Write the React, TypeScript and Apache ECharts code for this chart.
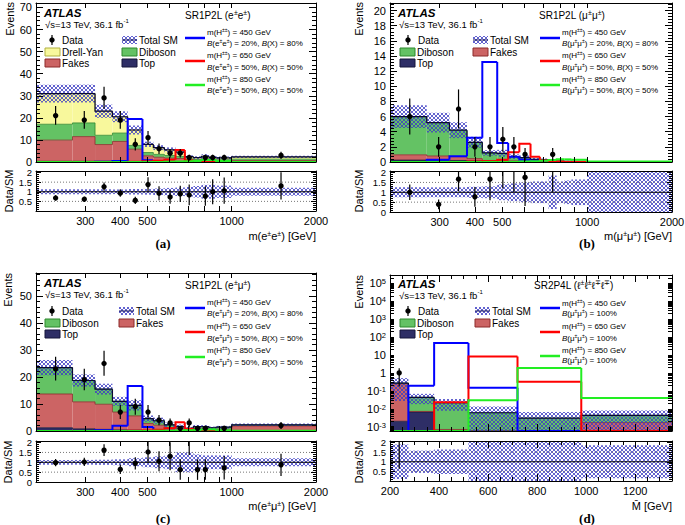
import React, { useEffect, useRef } from "react";
import * as echarts from "echarts";

const FONT = "'Liberation Sans', Arial, Helvetica, sans-serif";
const SERIF = "'Liberation Serif', 'Times New Roman', serif";

// ---------- binning and axis ticks ----------
const EDGES_2L = [200, 270, 325, 375, 425, 480, 525, 575, 630, 680, 730, 780, 830, 880, 1000, 2000];
const EDGES_4L = [200, 275, 380, 520, 720, 980, 1350];
const X_TICKS_LOG = [200, 300, 400, 500, 600, 700, 800, 900, 1000, 2000];
const X_LABELS_LOG = [300, 400, 500, 1000, 2000];
const RATIO_LABELS = [0, 0.5, 1, 1.5, 2];
const LOGY_EXPONENTS_D = [-3, -2, -1, 0, 1, 2, 3, 4, 5];

// ---------- (a) SR1P2L e±e± ----------
const A_TOP = [0.3, 0.3, 0.3, 0.3, 0.2, 0.2, 0.15, 0.15, 0.1, 0.1, 0.05, 0.05, 0.05, 0.05, 0.1];
const A_FAKES = [9.6, 11.2, 7.6, 9.0, 5.6, 2.6, 2.0, 1.6, 1.5, 0.7, 0.6, 0.8, 0.6, 0.5, 0.6];
const A_DIBOSON = [7.2, 6.2, 4.2, 3.8, 1.7, 1.5, 1.3, 1.2, 0.9, 0.6, 0.5, 0.6, 0.5, 0.5, 0.6];
const A_DY = [13.9, 13.3, 10.9, 7.4, 7.0, 3.7, 3.05, 2.55, 2.0, 1.0, 0.85, 1.15, 0.85, 0.85, 1.0];
const A_UNC = [0.13, 0.13, 0.13, 0.12, 0.14, 0.15, 0.17, 0.2, 0.22, 0.25, 0.3, 0.36, 0.36, 0.32, 0.21];
const A_DATA = [21, 19, 29, 19, 8, 11, 6, 4, 4, 2, 0, 2, 2, 2, 3];
const A_H450 = [0, 0, 0.1, 0.5, 19.5, 0.8, 0.2, 0.1, 0.05, 0, 0, 0, 0, 0, 0];
const A_H650 = [0, 0, 0, 0, 0.1, 0.3, 0.6, 1.0, 5.4, 0.7, 0.2, 0.1, 0.05, 0, 0];
const A_H850 = [0, 0, 0, 0, 0, 0, 0.05, 0.1, 0.2, 0.3, 0.5, 0.9, 0.9, 0.4, 0.05];

// ---------- (b) SR1P2L μ±μ± ----------
const B_TOP = [0.25, 0.2, 0.2, 0.15, 0.1, 0.1, 0.05, 0.05, 0.03, 0.03, 0.02, 0.01, 0.01, 0.01, 0.01];
const B_FAKES = [0.7, 0.6, 0.5, 0.3, 0.1, 0.1, 0.1, 0.05, 0.05, 0.04, 0.02, 0.02, 0.01, 0.01, 0.01];
const B_DIBOSON = [5.05, 4.4, 3.5, 2.15, 1.0, 0.95, 0.55, 0.47, 0.27, 0.23, 0.13, 0.09, 0.08, 0.06, 0.04];
const B_UNC = [0.25, 0.25, 0.25, 0.28, 0.3, 0.4, 0.45, 0.5, 0.55, 0.55, 0.85, 0.55, 0.6, 0.65, 1.2];
const B_DATA = [6, 2, 7, 2, 2, 3, 2, 1, 0, 0, 1, 0, 0, 0, 0];
const B_H450 = [0, 0.3, 0.75, 3.2, 13.2, 2.5, 0.7, 0.3, 0.15, 0.1, 0, 0, 0, 0, 0];
const B_H650 = [0, 0, 0, 0.05, 0.1, 0.3, 1.3, 2.4, 0.7, 0.2, 0.1, 0.05, 0, 0, 0];
const B_H850 = [0, 0, 0, 0, 0, 0, 0, 0.05, 0.1, 0.15, 0.25, 0.35, 0.35, 0.3, 0.05];

// ---------- (c) SR1P2L e±μ± ----------
const C_TOP = [1.2, 0.8, 0.6, 0.4, 0.3, 0.2, 0.15, 0.1, 0.1, 0.05, 0.05, 0.05, 0.05, 0.05, 0.1];
const C_FAKES = [12.5, 10, 9.3, 6.6, 5.3, 2.6, 2.0, 1.2, 0.8, 0.5, 0.8, 0.8, 0.5, 0.6, 1.8];
const C_DIBOSON = [9.8, 7.9, 5.6, 4.0, 3.9, 1.8, 1.65, 1.0, 0.7, 0.45, 0.75, 0.75, 0.65, 0.75, 0.4];
const C_UNC = [0.12, 0.12, 0.13, 0.15, 0.2, 0.25, 0.3, 0.35, 0.5, 0.5, 0.4, 0.35, 0.35, 0.35, 0.2];
const C_DATA = [23, 19, 25, 7, 9, 7, 4, 3, 1, 3, 1, 1, 0, 1, 2];
const C_H450 = [0, 0, 0.3, 1.9, 16.7, 1.5, 0.3, 0.1, 0, 0, 0, 0, 0, 0, 0];
const C_H650 = [0, 0, 0, 0, 0.1, 0.2, 0.5, 1.0, 3.2, 0.8, 0.3, 0.1, 0.05, 0, 0];
const C_H850 = [0, 0, 0, 0, 0, 0, 0.05, 0.1, 0.15, 0.25, 0.4, 0.6, 0.6, 0.3, 0.05];

// ---------- (d) SR2P4L ----------
const D_TOP = [0.002, 0.0066, 0.0005, 0.0003, 0.0001, 0.0002];
const D_FAKES = [0.25, 0.0005, 0.0002, 0.0002, 0.0002, 0.0015];
const D_DIBOSON = [0.018, 0.036, 0.021, 0.0055, 0.0027, 0.0026];
const D_UNC = [0.9, 0.58, 0.64, 1.25, 1.2, 0.86];
const D_DATA = [1, 0, 0, 0, 0, 0];
const D_H450 = [0, 0.19, 47, 0.15, 0, 0];
const D_H650 = [0, 0, 0.023, 8.1, 0.32, 0];
const D_H850 = [0, 0, 0, 0.03, 1.87, 0.04];

// Poisson 68% quantiles for small counts
const POIS_LO = [0, 0.173, 0.708, 1.367, 2.086, 2.84, 3.62, 4.419, 5.232, 6.057, 6.891];
const POIS_HI = [1.841, 3.3, 4.638, 5.918, 7.163, 8.382, 9.584, 10.77, 11.95, 13.11, 14.27];
function poisBand(n: number): [number, number] {
  if (n <= 10) return [POIS_LO[n], POIS_HI[n - 1]];
  const s = Math.sqrt(n + 0.25);
  return [n - s + 0.5, n + s - 0.3];
}

const LX_MIN = Math.log10(200);
const LX_MAX = Math.log10(2000);
const LY_MIN_D = -3.24;
const LY_MAX_D = 5.46;

const COMP_STYLE: Record<string, { fill: string; line: string }> = {
  dy: { fill: "#f8f89c", line: "#b0b040" },
  dib: { fill: "#64c264", line: "#2d872d" },
  fakes: { fill: "#cc6464", line: "#8c2a2a" },
  top: { fill: "#2e2e66", line: "#15153a" },
};
const SIG_COLORS = ["#0000ff", "#ff0000", "#22ee22"];

const GRID_BOXES = [
  { left: 36, top: 3, width: 280, height: 159 },
  { left: 36, top: 171, width: 280, height: 40 },
  { left: 390, top: 3, width: 282, height: 159 },
  { left: 390, top: 171, width: 282, height: 41 },
  { left: 36, top: 273, width: 280, height: 158 },
  { left: 36, top: 441, width: 280, height: 41 },
  { left: 390, top: 275, width: 282, height: 156 },
  { left: 390, top: 441, width: 282, height: 40 },
];

type Panel = {
  grid: number;
  edges: number[];
  logX: boolean;
  logY: boolean;
  yMax: number;
  yInt: number;
  comps: { vals: number[]; kind: string }[];
  unc: number[];
  data: number[];
  sig: number[][];
};

const PANELS: Panel[] = [
  {
    grid: 0, edges: EDGES_2L, logX: true, logY: false, yMax: 72, yInt: 10,
    comps: [{ vals: A_TOP, kind: "top" }, { vals: A_FAKES, kind: "fakes" }, { vals: A_DIBOSON, kind: "dib" }, { vals: A_DY, kind: "dy" }],
    unc: A_UNC, data: A_DATA, sig: [A_H450, A_H650, A_H850],
  },
  {
    grid: 2, edges: EDGES_2L, logX: true, logY: false, yMax: 21, yInt: 2,
    comps: [{ vals: B_TOP, kind: "top" }, { vals: B_FAKES, kind: "fakes" }, { vals: B_DIBOSON, kind: "dib" }],
    unc: B_UNC, data: B_DATA, sig: [B_H450, B_H650, B_H850],
  },
  {
    grid: 4, edges: EDGES_2L, logX: true, logY: false, yMax: 58.5, yInt: 10,
    comps: [{ vals: C_TOP, kind: "top" }, { vals: C_FAKES, kind: "fakes" }, { vals: C_DIBOSON, kind: "dib" }],
    unc: C_UNC, data: C_DATA, sig: [C_H450, C_H650, C_H850],
  },
  {
    grid: 6, edges: EDGES_4L, logX: false, logY: true, yMax: 0, yInt: 0,
    comps: [{ vals: D_TOP, kind: "top" }, { vals: D_FAKES, kind: "fakes" }, { vals: D_DIBOSON, kind: "dib" }],
    unc: D_UNC, data: D_DATA, sig: [D_H450, D_H650, D_H850],
  },
];

function makeHatch(): any {
  try {
    const c = document.createElement("canvas");
    c.width = 4;
    c.height = 4;
    const ctx = c.getContext("2d");
    if (!ctx) return "rgba(70,70,200,0.45)";
    ctx.fillStyle = "rgba(60,60,195,0.8)";
    for (let i = 0; i < 4; i++) {
      ctx.fillRect(i, i, 1, 1);
      if (i !== 3 - i) ctx.fillRect(i, 3 - i, 1, 1);
    }
    return { image: c.toDataURL(), repeat: "repeat", imageWidth: 4, imageHeight: 4 };
  } catch (e) {
    return "rgba(70,70,200,0.45)";
  }
}

// ---------- render helpers ----------
const rectRender = (fill: any) => (_p: any, api: any) => {
  const a = api.coord([api.value(0), api.value(3)]);
  const b = api.coord([api.value(1), api.value(2)]);
  return { type: "rect", shape: { x: a[0], y: a[1], width: b[0] - a[0], height: b[1] - a[1] }, style: { fill } };
};
const stepRender = (stroke: string, lineWidth: number) => (_p: any, api: any) => {
  const a = api.coord([api.value(0), api.value(2)]);
  const b = api.coord([api.value(0), api.value(3)]);
  const c = api.coord([api.value(1), api.value(3)]);
  return { type: "polyline", shape: { points: [a, b, c] }, style: { stroke, lineWidth, fill: "none" } };
};
const pointRender = (_p: any, api: any) => {
  const c = api.coord([api.value(0), api.value(1)]);
  const lo = api.coord([api.value(0), api.value(2)]);
  const hi = api.coord([api.value(0), api.value(3)]);
  return {
    type: "group",
    children: [
      { type: "line", shape: { x1: lo[0], y1: lo[1], x2: hi[0], y2: hi[1] }, style: { stroke: "#000", lineWidth: 1.2 } },
      { type: "circle", shape: { cx: c[0], cy: c[1], r: 2.7 }, style: { fill: "#000" } },
    ],
  };
};
const guideRender = (_p: any, api: any) => {
  const a = api.coord([api.value(0), api.value(2)]);
  const b = api.coord([api.value(1), api.value(2)]);
  const solid = api.value(3) === 1;
  return {
    type: "line",
    shape: { x1: a[0], y1: a[1], x2: b[0], y2: b[1] },
    style: { stroke: solid ? "#000" : "#777", lineWidth: 1, lineDash: solid ? null : [1, 2] },
  };
};
const cs = (gi: number, data: any[], renderItem: any, z = 2) => ({
  type: "custom",
  coordinateSystem: "cartesian2d",
  xAxisIndex: 2 * gi,
  yAxisIndex: 2 * gi,
  clip: true,
  silent: true,
  z,
  data,
  renderItem,
});

function makeX(p: Panel, gi: number, position: string, showLabel: boolean) {
  const ax: any = {
    gridIndex: gi,
    type: "value",
    position,
    z: 5,
    axisLine: { show: true, onZero: false, lineStyle: { color: "#000", width: 1 } },
    splitLine: { show: false },
    axisTick: { show: true, inside: true, length: 5, lineStyle: { color: "#000" } },
    axisLabel: { show: showLabel, color: "#000", fontSize: 11, fontFamily: FONT, margin: 4 },
  };
  if (p.logX) {
    ax.min = LX_MIN;
    ax.max = LX_MAX;
    ax.axisTick.customValues = X_TICKS_LOG.map((v) => Math.log10(v));
    ax.axisLabel.customValues = X_LABELS_LOG.map((v) => Math.log10(v));
    ax.axisLabel.formatter = (v: number) => String(Math.round(Math.pow(10, v)));
  } else {
    ax.min = 200;
    ax.max = 1350;
    ax.interval = 200;
    ax.axisTick.length = 7;
    ax.minorTick = { show: true, splitNumber: 4, length: 4, lineStyle: { color: "#000" } };
    ax.axisLabel.formatter = (v: number) => (v % 200 === 0 && v <= 1200 ? String(v) : "");
  }
  return ax;
}

function makeY(p: Panel, gi: number, position: string, isRatio: boolean, showLabel: boolean) {
  const ax: any = {
    gridIndex: gi,
    type: "value",
    position,
    z: 5,
    axisLine: { show: true, onZero: false, lineStyle: { color: "#000", width: 1 } },
    splitLine: { show: false },
    axisTick: { show: true, inside: true, length: 7, lineStyle: { color: "#000" } },
    axisLabel: { show: showLabel, color: "#000", fontSize: 11, fontFamily: FONT, margin: 4 },
  };
  if (isRatio) {
    ax.min = 0;
    ax.max = 2.08;
    ax.interval = 0.5;
    ax.axisTick.length = 5;
    ax.axisLabel.fontSize = 9.5;
    ax.axisLabel.lineHeight = 8;
    ax.minorTick = { show: true, splitNumber: 5, length: 3, lineStyle: { color: "#000" } };
    ax.axisLabel.formatter = (v: number) => {
      const r = Math.round(v * 100) / 100;
      return RATIO_LABELS.indexOf(r) >= 0 && Math.abs(v - r) < 1e-6 ? String(r) : "";
    };
  } else if (p.logY) {
    ax.min = LY_MIN_D;
    ax.max = LY_MAX_D;
    const ticks: number[] = [];
    for (let e = -4; e <= 5; e++) {
      for (let k = 1; k <= 9; k++) {
        const v = e + Math.log10(k);
        if (v > LY_MIN_D && v < LY_MAX_D) ticks.push(v);
      }
    }
    ax.axisTick.customValues = ticks;
    ax.axisTick.length = 4;
    ax.axisLabel.customValues = LOGY_EXPONENTS_D;
    ax.axisLabel.formatter = (v: number) => {
      const e = Math.round(v);
      if (e === 0) return "1";
      if (e === 1) return "10";
      return "{b|10}{s|" + e + "}";
    };
    ax.axisLabel.rich = {
      b: { fontSize: 11, fontFamily: FONT, color: "#000" },
      s: { fontSize: 7.5, fontFamily: FONT, color: "#000", verticalAlign: "top", lineHeight: 8 },
    };
  } else {
    ax.min = 0;
    ax.max = p.yMax;
    ax.interval = p.yInt;
    ax.minorTick = { show: true, splitNumber: 5, length: 4, lineStyle: { color: "#000" } };
    ax.axisLabel.formatter = (v: number) => (Math.abs(v / p.yInt - Math.round(v / p.yInt)) < 1e-6 ? String(v) : "");
  }
  return ax;
}

// ---------- text helpers ----------
const rich = (size: number) => ({
  n: { fontSize: size, fontFamily: FONT, fill: "#000", color: "#000", lineHeight: size + 2 },
  i: { fontSize: size, fontFamily: FONT, fontStyle: "italic", fill: "#000", color: "#000", lineHeight: size + 2 },
  s: {
    fontSize: Math.max(5, Math.round(size * 0.68)),
    fontFamily: FONT,
    fill: "#000",
    color: "#000",
    verticalAlign: "top",
    lineHeight: Math.round(size * 0.7),
  },
});
const txt = (x: number, y: number, text: string, size: number, opts: any = {}, extra: any = {}) => ({
  type: "text",
  x,
  y,
  silent: true,
  z: 100,
  ...extra,
  style: {
    text,
    fontSize: size,
    fontFamily: FONT,
    fill: "#000",
    align: "left",
    verticalAlign: "middle",
    textAlign: opts.align || "left",
    textVerticalAlign: "middle",
    rich: rich(size),
    ...opts,
  },
});
const gline = (x1: number, y1: number, x2: number, y2: number, stroke: string, lineWidth: number) => ({
  type: "line",
  silent: true,
  z: 100,
  shape: { x1, y1, x2, y2 },
  style: { stroke, lineWidth },
});

type Leg = {
  ax: number; ay: number;
  entries: [number, number, string, string][];
  srx: number; sry: number; sr: string;
  sigx: number; sig: [number, number, number, string, string][];
};

function legendEls(L: Leg, hatch: any) {
  const els: any[] = [];
  els.push(txt(L.ax, L.ay, "ATLAS", 11.5, { fontWeight: "bold", fontStyle: "italic" }));
  els.push(txt(L.ax + 1, L.ay + 11, "{n|√s=13 TeV, 36.1 fb}{s|-1}", 9.5));
  L.entries.forEach(([x, y, kind, label]) => {
    if (kind === "data") {
      els.push(gline(x + 7, y - 5, x + 7, y + 5, "#000", 1.2));
      els.push({ type: "circle", silent: true, z: 100, shape: { cx: x + 7, cy: y, r: 2.7 }, style: { fill: "#000" } });
    } else if (kind === "sm") {
      els.push({ type: "rect", silent: true, z: 100, shape: { x, y: y - 4, width: 15, height: 8 }, style: { fill: hatch } });
      els.push(gline(x, y, x + 15, y, "#14145a", 1));
    } else {
      const st = COMP_STYLE[kind];
      els.push({ type: "rect", silent: true, z: 100, shape: { x, y: y - 4, width: 15, height: 8 }, style: { fill: st.fill, stroke: st.line, lineWidth: 1 } });
    }
    els.push(txt(x + 17, y, label, 10));
  });
  els.push(txt(L.srx, L.sry, L.sr, 10));
  L.sig.forEach(([ly, t1y, t2y, t1, t2], j) => {
    els.push(gline(L.sigx, ly, L.sigx + 20, ly, SIG_COLORS[j], 2.5));
    els.push(txt(L.sigx + 22, t1y, t1, 8));
    els.push(txt(L.sigx + 22, t2y, t2, 8));
  });
  return els;
}

const MH = (m: number) => "{n|m(H}{s|±±}{n|) = " + m + " GeV}";
const BR2 = (a: string, b: string, p: number) =>
  "{i|B}{n|(" + a + "}{s|±}{n|" + b + "}{s|±}{n|) = " + p + "%, }{i|B}{n|(X) = " + (100 - p) + "%}";
const BR4 = "{i|B}{n|(μ}{s|±}{n|μ}{s|±}{n|) = 100%}";

function buildGraphics(hatch: any) {
  const els: any[] = [];
  // (a)
  els.push(
    ...legendEls(
      {
        ax: 44, ay: 13,
        entries: [
          [45, 40, "data", "Data"], [122, 40, "sm", "Total SM"],
          [45, 52, "dy", "Drell-Yan"], [122, 52, "dib", "Diboson"],
          [45, 63, "fakes", "Fakes"], [122, 63, "top", "Top"],
        ],
        srx: 185, sry: 15, sr: "{n|SR1P2L (e}{s|±}{n|e}{s|±}{n|)}",
        sigx: 185,
        sig: [
          [38, 32, 43, MH(450), BR2("e", "e", 20)],
          [61, 55, 67, MH(650), BR2("e", "e", 50)],
          [85, 79, 90, MH(850), BR2("e", "e", 50)],
        ],
      },
      hatch
    )
  );
  // (b)
  els.push(
    ...legendEls(
      {
        ax: 398, ay: 13,
        entries: [
          [401, 40, "data", "Data"], [473, 40, "sm", "Total SM"],
          [400, 52, "dib", "Diboson"], [473, 52, "fakes", "Fakes"],
          [400, 63, "top", "Top"],
        ],
        srx: 539, sry: 15, sr: "{n|SR1P2L (μ}{s|±}{n|μ}{s|±}{n|)}",
        sigx: 540,
        sig: [
          [38, 32, 43, MH(450), BR2("μ", "μ", 20)],
          [61, 55, 67, MH(650), BR2("μ", "μ", 50)],
          [85, 79, 90, MH(850), BR2("μ", "μ", 50)],
        ],
      },
      hatch
    )
  );
  // (c)
  els.push(
    ...legendEls(
      {
        ax: 44, ay: 283,
        entries: [
          [45, 311, "data", "Data"], [119, 311, "sm", "Total SM"],
          [45, 323, "dib", "Diboson"], [119, 323, "fakes", "Fakes"],
          [45, 334, "top", "Top"],
        ],
        srx: 185, sry: 285, sr: "{n|SR1P2L (e}{s|±}{n|μ}{s|±}{n|)}",
        sigx: 185,
        sig: [
          [308, 302, 313, MH(450), BR2("e", "μ", 20)],
          [332, 326, 338, MH(650), BR2("e", "μ", 50)],
          [357, 350, 362, MH(850), BR2("e", "μ", 50)],
        ],
      },
      hatch
    )
  );
  // (d)
  els.push(
    ...legendEls(
      {
        ax: 398, ay: 284,
        entries: [
          [401, 311, "data", "Data"], [475, 311, "sm", "Total SM"],
          [400, 323, "dib", "Diboson"], [475, 323, "fakes", "Fakes"],
          [400, 334, "top", "Top"],
        ],
        srx: 534, sry: 285, sr: "{n|SR2P4L (ℓ}{s|±}{n|ℓ}{s|±}{n|ℓ}{s|∓}{n|ℓ}{s|∓}{n|)}",
        sigx: 540,
        sig: [
          [308, 303, 313, MH(450), BR4],
          [332, 326, 338, MH(650), BR4],
          [356, 350, 360, MH(850), BR4],
        ],
      },
      hatch
    )
  );
  // axis titles
  const rot = { rotation: Math.PI / 2 };
  els.push(txt(10, 2, "Events", 11, { align: "right", textAlign: "right" }, rot));
  els.push(txt(9, 191, "Data/SM", 11, { align: "center", textAlign: "center" }, rot));
  els.push(txt(359, 2, "Events", 11, { align: "right", textAlign: "right" }, rot));
  els.push(txt(359, 191, "Data/SM", 11, { align: "center", textAlign: "center" }, rot));
  els.push(txt(8, 273, "Events", 11, { align: "right", textAlign: "right" }, rot));
  els.push(txt(8, 462, "Data/SM", 11, { align: "center", textAlign: "center" }, rot));
  els.push(txt(359, 275, "Events", 11, { align: "right", textAlign: "right" }, rot));
  els.push(txt(359, 462, "Data/SM", 11, { align: "center", textAlign: "center" }, rot));

  els.push(txt(316, 236, "{n|m(e}{s|±}{n|e}{s|±}{n|) [GeV]}", 11, { align: "right", textAlign: "right" }));
  els.push(txt(672, 236, "{n|m(μ}{s|±}{n|μ}{s|±}{n|) [GeV]}", 11, { align: "right", textAlign: "right" }));
  els.push(txt(316, 506, "{n|m(e}{s|±}{n|μ}{s|±}{n|) [GeV]}", 11, { align: "right", textAlign: "right" }));
  els.push(txt(672, 506, "M\u0304 [GeV]", 11, { align: "right", textAlign: "right" }));

  const letter = { fontFamily: SERIF, fontWeight: "bold", align: "center", textAlign: "center" };
  els.push(txt(163, 243, "(a)", 13, letter));
  els.push(txt(587, 243, "(b)", 13, letter));
  els.push(txt(163, 518, "(c)", 13, letter));
  els.push(txt(587, 518, "(d)", 13, letter));
  return els;
}

function buildOption(hatch: any) {
  const xAxis: any[] = [];
  const yAxis: any[] = [];
  const series: any[] = [];
  const grid = GRID_BOXES.map((b) => ({ ...b, containLabel: false, outerBoundsMode: "none", show: false }));

  PANELS.forEach((p) => {
    const gm = p.grid;
    const gr = p.grid + 1;
    const tx = (v: number) => (p.logX ? Math.log10(v) : v);
    const ty = (v: number) => (p.logY ? (v > 0 ? Math.max(Math.log10(v), LY_MIN_D) : LY_MIN_D) : v);
    const xs = p.edges.map(tx);
    const nb = p.edges.length - 1;

    ([[gm, false], [gr, true]] as [number, boolean][]).forEach(([gi, isRatio]) => {
      xAxis.push(makeX(p, gi, "bottom", isRatio));
      xAxis.push(makeX(p, gi, "top", false));
      yAxis.push(makeY(p, gi, "left", isRatio, true));
      yAxis.push(makeY(p, gi, "right", isRatio, false));
    });

    const stepRows = (vals: number[]) =>
      vals.map((v, i) => [xs[i], xs[i + 1], ty(i === 0 ? 0 : vals[i - 1]), ty(v)]);

    // cumulative stack
    const cums: number[][] = [];
    let prev = new Array(nb).fill(0);
    p.comps.forEach((c) => {
      const cur = prev.map((v: number, i: number) => v + c.vals[i]);
      cums.push(cur);
      prev = cur;
    });
    const total = prev as number[];

    p.comps.forEach((c, k) => {
      const lower = k === 0 ? new Array(nb).fill(0) : cums[k - 1];
      const rows: number[][] = [];
      for (let i = 0; i < nb; i++) {
        if (c.vals[i] > 0) rows.push([xs[i], xs[i + 1], ty(lower[i]), ty(cums[k][i])]);
      }
      series.push(cs(gm, rows, rectRender(COMP_STYLE[c.kind].fill)));
    });
    p.comps.forEach((c, k) => {
      series.push(cs(gm, stepRows(cums[k]), stepRender(COMP_STYLE[c.kind].line, 0.8)));
    });
    // total SM uncertainty (hatched) and total line
    series.push(
      cs(gm, total.map((t, i) => [xs[i], xs[i + 1], ty(t * (1 - p.unc[i])), ty(t * (1 + p.unc[i]))]), rectRender(hatch))
    );
    series.push(cs(gm, stepRows(total), stepRender("#0a0a30", 1.2)));
    // signals
    p.sig.forEach((s, j) => series.push(cs(gm, stepRows(s), stepRender(SIG_COLORS[j], 2))));
    // data
    const dataRows: number[][] = [];
    const ratioRows: number[][] = [];
    p.data.forEach((n, i) => {
      if (n <= 0) return;
      const [lo, hi] = poisBand(n);
      const cx = tx((p.edges[i] + p.edges[i + 1]) / 2);
      dataRows.push([cx, ty(n), ty(lo), ty(hi)]);
      ratioRows.push([cx, n / total[i], lo / total[i], hi / total[i]]);
    });
    series.push(cs(gm, dataRows, pointRender, 3));

    // ratio panel
    series.push(
      cs(gr, total.map((_t, i) => [xs[i], xs[i + 1], Math.max(1 - p.unc[i], -0.5), 1 + p.unc[i]]), rectRender(hatch))
    );
    series.push(
      cs(
        gr,
        [
          [xs[0], xs[nb], 0.5, 0],
          [xs[0], xs[nb], 1, 1],
          [xs[0], xs[nb], 1.5, 0],
        ],
        guideRender
      )
    );
    series.push(cs(gr, ratioRows, pointRender, 3));
  });

  return {
    animation: false,
    backgroundColor: "#ffffff",
    textStyle: { fontFamily: FONT },
    grid,
    xAxis,
    yAxis,
    series,
    graphic: { elements: buildGraphics(hatch) },
  };
}

export default function App() {
  const ref = useRef<HTMLDivElement>(null);
  useEffect(() => {
    if (!ref.current) return;
    const chart = echarts.init(ref.current, null, { renderer: "svg" });
    chart.setOption(buildOption(makeHatch()) as any);
    return () => {
      chart.dispose();
    };
  }, []);
  return <div ref={ref} style={{ position: "absolute", left: 0, top: 0, width: 685, height: 525 }} />;
}
